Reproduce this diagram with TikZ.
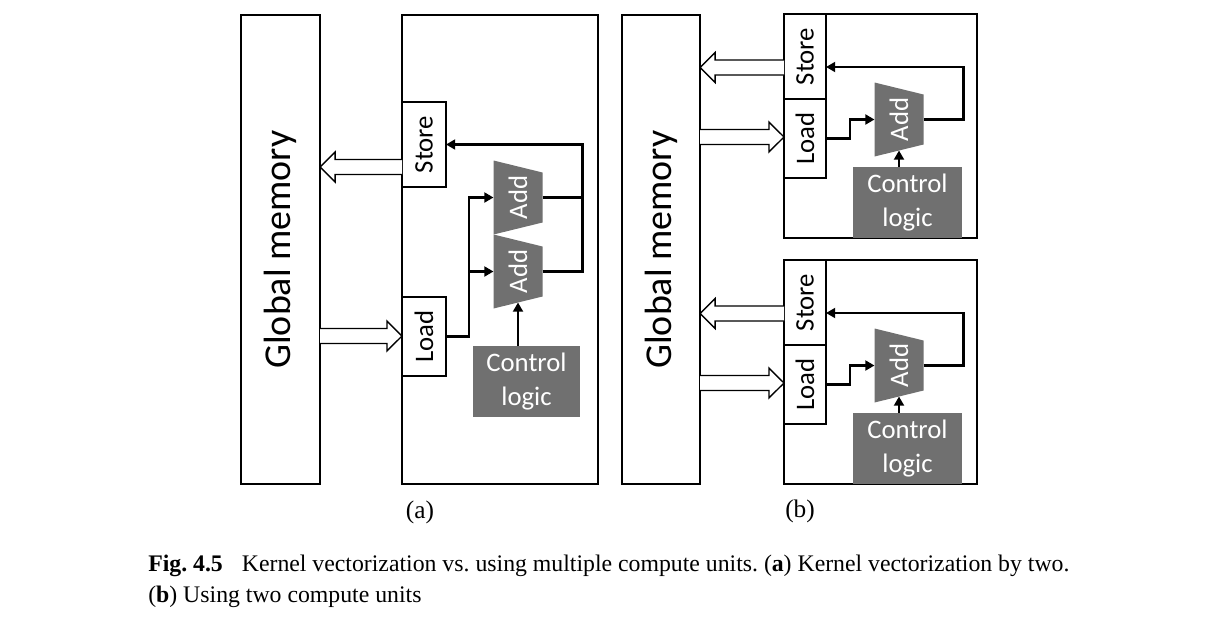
\documentclass[tikz,border=0pt]{standalone}
\usepackage{fontspec}
\usepackage{graphicx}
\setmainfont{Carlito}
\newfontfamily\capfont{Liberation Serif}
\usetikzlibrary{arrows.meta,calc}
\frenchspacing

\definecolor{unitgray}{RGB}{112,112,112}
\newcommand\bigtxt{\fontsize{27}{32}\selectfont}
\newcommand\midtxt{\fontsize{19}{24}\selectfont}
\newcommand\captxt{\capfont\fontsize{16.9}{22}\selectfont}

% the Add unit: trapezium drawn directly, named node on top of it
\newcommand\addunit[3]{%
  \fill[unitgray] (#2-24.5,#3-37) -- (#2+24.5,#3-25) -- (#2+24.5,#3+25)
    -- (#2-24.5,#3+37) -- cycle;
  \node[addtxt] (#1) at (#2,#3) {\rotatebox{90}{Add}};
  \coordinate (#1-b) at (#2,#3+31);}

% wide open arrow between two points
\newcommand\fatarrow[2]{%
  \draw[hollow] ($(#1)+(0,-7.5)$) -- ($(#2)!10.7pt!(#1)+(0,-7.5)$)
    -- ($(#2)!10.7pt!(#1)+(0,-15)$) -- (#2) -- ($(#2)!10.7pt!(#1)+(0,15)$)
    -- ($(#2)!10.7pt!(#1)+(0,7.5)$) -- ($(#1)+(0,7.5)$);}

\tikzset{
  box/.style={draw, fill=white, line width=0.9pt, inner sep=0pt, outer sep=0pt},
  graybox/.style={fill=unitgray, text=white, inner sep=0pt, outer sep=0pt,
    font=\midtxt, align=center},
  addtxt/.style={text=white, inner sep=0pt, outer sep=0pt, font=\midtxt,
    minimum width=1.225cm, minimum height=1.85cm},
  wire/.style={line width=2.1pt, -{Triangle[length=6.5pt,width=7pt]}},
  hollow/.style={draw, fill=white, line width=1pt, line join=miter},
}

\begin{document}
\begin{tikzpicture}[x=0.025cm, y=-0.025cm]
  \useasboundingbox (0,0) rectangle (1220,619);

  % (a) kernel vectorization
  \node[box, minimum width=1.975cm, minimum height=11.725cm] (gma) at (280.5,249.5)
    {\bigtxt\rotatebox{90}{Global memory}};
  \node[box, minimum width=4.9cm, minimum height=11.725cm] (cua) at (500,249.5) {};
  \node[box, minimum width=1.1cm, minimum height=2.125cm] (storea) at (424,144.5)
    {\midtxt\rotatebox{90}{Store}};
  \node[box, minimum width=1.1cm, minimum height=1.975cm] (loada) at (424,336.5)
    {\midtxt\rotatebox{90}{Load}};
  \addunit{adda1}{518}{197.5}
  \addunit{adda2}{518}{271.5}
  \node[graybox, minimum width=2.675cm, minimum height=1.775cm] (ctrla) at (526.5,381.5)
    {Control\\logic};

  \draw[wire] (loada.east) -- ++(23,0) |- (adda1.west);
  \draw[wire] (loada.east) ++(23,0) |- (adda2.west);
  \draw[line width=2.1pt] (adda1.east) -- ++(40,0);
  \draw[wire] (adda2.east) -- ++(40,0) |- (storea.east);
  \draw[wire] (ctrla.north -| adda2) -- (adda2-b);

  \fatarrow{storea.west |- 0,167}{gma.east |- 0,167}
  \fatarrow{gma.east |- 0,336}{loada.west |- 0,336}

  \node[font=\capfont\fontsize{18}{20}\selectfont] (laba) at (420,512) {(a)};

  % (b) two compute units
  \node[box, minimum width=1.95cm, minimum height=11.725cm] (gmb) at (661,249.5)
    {\bigtxt\rotatebox{90}{Global memory}};

  % upper compute unit
  \node[box, minimum width=4.825cm, minimum height=5.6cm] (cub1) at (880.5,126) {};
  \node[box, minimum width=1.05cm, minimum height=2.125cm] (storeb1) at (805,56.5)
    {\midtxt\rotatebox{90}{Store}};
  \node[box, minimum width=1.05cm, minimum height=1.975cm] (loadb1) at (805,138.5)
    {\midtxt\rotatebox{90}{Load}};
  \addunit{addb1}{899}{119.5}
  \node[graybox, minimum width=2.725cm, minimum height=1.775cm] (ctrlb1) at (907.5,202.5)
    {Control\\logic};

  \draw[wire] (loadb1.east) -- ++(24,0) |- (addb1.west);
  \draw[wire] (addb1.east) -- ++(40,0) |- (storeb1.east |- 0,67);
  \draw[wire] (ctrlb1.north -| addb1) -- (addb1-b);

  \fatarrow{storeb1.west |- 0,67.5}{gmb.east |- 0,67.5}
  \fatarrow{gmb.east |- 0,137}{loadb1.west |- 0,137}

  % lower compute unit
  \node[box, minimum width=4.825cm, minimum height=5.6cm] (cub2) at (880.5,372) {};
  \node[box, minimum width=1.05cm, minimum height=2.125cm] (storeb2) at (805,302.5)
    {\midtxt\rotatebox{90}{Store}};
  \node[box, minimum width=1.05cm, minimum height=1.975cm] (loadb2) at (805,384.5)
    {\midtxt\rotatebox{90}{Load}};
  \addunit{addb2}{899}{365.5}
  \node[graybox, minimum width=2.725cm, minimum height=1.775cm] (ctrlb2) at (907.5,448.5)
    {Control\\logic};

  \draw[wire] (loadb2.east) -- ++(24,0) |- (addb2.west);
  \draw[wire] (addb2.east) -- ++(40,0) |- (storeb2.east |- 0,313);
  \draw[wire] (ctrlb2.north -| addb2) -- (addb2-b);

  \fatarrow{storeb2.west |- 0,313.5}{gmb.east |- 0,313.5}
  \fatarrow{gmb.east |- 0,383}{loadb2.west |- 0,383}

  \node[font=\capfont\fontsize{18}{20}\selectfont] (labb) at (800,511) {(b)};

  % caption
  \node[anchor=base west, inner sep=0pt, font=\captxt] (cap1) at (148,571)
    {\textbf{Fig. 4.5}\hspace{0.8em}Kernel vectorization vs. using multiple compute units. (\textbf{a}) Kernel vectorization by two.};
  \node[anchor=base west, inner sep=0pt, font=\captxt] (cap2) at (148,602)
    {(\textbf{b}) Using two compute units};
\end{tikzpicture}
\end{document}
